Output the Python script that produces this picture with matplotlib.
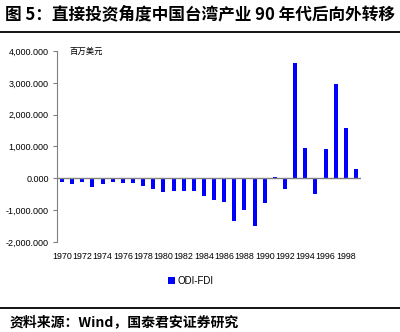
import numpy as np
import matplotlib.pyplot as plt
from matplotlib.lines import Line2D
from matplotlib.ticker import FuncFormatter

plt.rcParams['font.family'] = ['Liberation Sans', 'Noto Sans CJK SC']

years = list(range(1970, 2000))
odi_fdi = [-130, -170, -120, -260, -190, -110, -150, -160, -230, -330,
           -440, -400, -390, -410, -550, -670, -730, -1350, -980, -1490,
           -780, 40, -340, 3610, 950, -490, 915, 2970, 1590, 285]
year_labels = [str(y) for y in range(1970, 1999, 2)]
title = '图 5：直接投资角度中国台湾产业 90 年代后向外转移'
source = '资料来源：Wind，国泰君安证券研究'
unit = '百万美元'
legend_label = 'ODI-FDI'

fig = plt.figure(figsize=(4, 3.32), dpi=100)
ax = fig.add_axes([57 / 400, 1 - 242 / 332, (361 - 57) / 400, (242 - 51) / 332])

ax.bar(years, odi_fdi, width=0.4, color='#0000ff', label=legend_label)
ax.axhline(0, color='#808080', lw=1.0)

ax.set_xlim(1969.5, 1999.5)
ax.set_ylim(-2000, 4000)
ax.set_yticks(np.arange(-2000, 4001, 1000))
ax.yaxis.set_major_formatter(FuncFormatter(lambda v, p: f'{v:,.3f}'))
ax.set_xticks(range(1970, 1999, 2))
ax.set_xticklabels(year_labels)

for s in ['top', 'right', 'bottom']:
    ax.spines[s].set_visible(False)
ax.spines['left'].set_color('#808080')
ax.tick_params(axis='y', length=3, color='#808080', labelsize=6.5, pad=3)
ax.tick_params(axis='x', length=0, labelsize=6.4, pad=7)

ax.text(0.04, 1.0, unit, transform=ax.transAxes, fontsize=6,
        family=['Noto Sans CJK SC'], va='center', ha='left')

handles, labels = ax.get_legend_handles_labels()
fig.legend(handles, labels, loc='center', bbox_to_anchor=(191 / 400, 1 - 281 / 332),
           frameon=False, fontsize=7, handlelength=0.7, handleheight=0.8,
           handletextpad=0.3)

fig.text(0.012, 1 - 14 / 332, title, fontsize=12, fontweight='bold',
         family=['Noto Sans CJK SC'], va='center', ha='left')
fig.add_artist(Line2D([0, 1], [1 - 32 / 332] * 2, color='black', lw=1.3))
fig.add_artist(Line2D([0, 1], [1 - 308 / 332] * 2, color='black', lw=1.3))
fig.text(0.025, 1 - 322 / 332, source, fontsize=10, fontweight='bold',
         family=['Noto Sans CJK SC'], va='center', ha='left')

fig.savefig('out.png', dpi=100)
